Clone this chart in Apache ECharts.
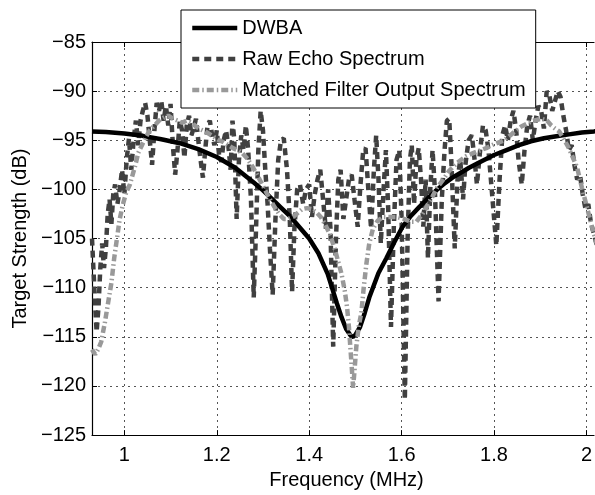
<!DOCTYPE html>
<html>
<head>
<meta charset="utf-8">
<script src="https://cdn.jsdelivr.net/npm/echarts@6/dist/echarts.min.js"></script>
<style>html,body{margin:0;padding:0;background:#fff}#c{width:595px;height:495px}</style>
</head>
<body>
<div id="c"></div>
<script>
const xTicks = [1, 1.2, 1.4, 1.6, 1.8, 2];
const yTicks = [-125, -120, -115, -110, -105, -100, -95, -90, -85];
const seriesNames = ['DWBA', 'Raw Echo Spectrum', 'Matched Filter Output Spectrum'];

const dwbaX = [0.93,0.96,1.00,1.04,1.08,1.12,1.16,1.20,1.24,1.28,1.30,1.32,1.34,1.36,1.38,1.40,1.42,1.44,1.46,1.47,1.48,1.49,1.495,1.50,1.51,1.52,1.53,1.55,1.567,1.585,1.602,1.62,1.638,1.657,1.675,1.69,1.71,1.728,1.746,1.77,1.80,1.827,1.854,1.88,1.908,1.935,1.962,1.99,2.016,2.04];
const dwbaY = [-94.1,-94.15,-94.3,-94.55,-94.9,-95.3,-95.9,-96.7,-97.8,-99.3,-100.1,-101.0,-101.9,-102.8,-103.9,-105.0,-106.5,-108.6,-111.6,-113.0,-114.2,-114.9,-115.0,-114.8,-114.0,-112.6,-111.0,-108.5,-107.0,-105.3,-103.8,-102.7,-101.8,-100.9,-100.1,-99.5,-98.8,-98.3,-97.8,-97.2,-96.5,-96.0,-95.5,-95.1,-94.8,-94.6,-94.4,-94.2,-94.1,-94.0];

const rawX = [0.930,0.933,0.937,0.940,0.944,0.948,0.952,0.956,0.960,0.964,0.968,0.972,0.976,0.980,0.985,0.990,0.995,1.000,1.005,1.010,1.015,1.020,1.025,1.030,1.035,1.040,1.045,1.050,1.055,1.060,1.065,1.070,1.075,1.080,1.085,1.090,1.095,1.100,1.105,1.110,1.115,1.120,1.125,1.130,1.135,1.140,1.145,1.150,1.155,1.160,1.165,1.170,1.175,1.180,1.185,1.190,1.195,1.200,1.205,1.210,1.215,1.220,1.225,1.230,1.234,1.238,1.243,1.248,1.253,1.258,1.263,1.268,1.274,1.280,1.285,1.290,1.295,1.300,1.305,1.310,1.315,1.321,1.327,1.333,1.339,1.345,1.352,1.358,1.363,1.368,1.374,1.380,1.387,1.393,1.400,1.406,1.412,1.418,1.424,1.430,1.436,1.441,1.446,1.452,1.458,1.463,1.468,1.474,1.480,1.486,1.492,1.498,1.505,1.511,1.517,1.522,1.528,1.534,1.540,1.545,1.550,1.555,1.561,1.566,1.571,1.577,1.583,1.589,1.595,1.600,1.607,1.613,1.618,1.622,1.627,1.632,1.637,1.642,1.647,1.652,1.657,1.662,1.667,1.672,1.680,1.687,1.693,1.698,1.703,1.708,1.715,1.721,1.727,1.733,1.738,1.745,1.752,1.758,1.763,1.770,1.776,1.782,1.788,1.795,1.805,1.812,1.818,1.824,1.830,1.836,1.842,1.848,1.853,1.860,1.866,1.872,1.878,1.884,1.890,1.896,1.902,1.908,1.914,1.920,1.926,1.932,1.938,1.944,1.950,1.956,1.962,1.968,1.974,1.980,1.986,1.992,1.998,2.004,2.010,2.016,2.024,2.034];
const rawY = [-105,-108,-112,-114.5,-112,-108,-105.5,-108,-106,-102.5,-101,-103.5,-100.5,-99.5,-101.5,-100,-98,-100.5,-97,-94.8,-98,-95,-93,-95.5,-93,-92,-91.2,-92.5,-95,-97.5,-94,-91.2,-92,-91,-93,-91.5,-93.5,-91.3,-95.5,-98.5,-96,-93,-94,-96.8,-93.5,-92.5,-94.5,-93.8,-92.8,-95,-97,-98.8,-96,-93.5,-93,-94.5,-95.5,-94,-96.5,-97.2,-95,-94,-95.5,-98,-93,-95,-103,-97,-94.5,-96,-93.5,-96,-101,-111,-104,-96,-92,-94,-98,-101.5,-106,-110.7,-103,-97,-95,-94.8,-98,-103,-110.4,-104,-100,-99.5,-101.5,-100,-99.5,-102.8,-100.5,-99,-98,-101,-104,-100,-104,-116,-105,-99,-98,-103,-101,-99,-98.5,-101,-103.8,-99.5,-96,-95.8,-100,-104,-98,-94.5,-99,-105.5,-100,-96,-102,-114,-104,-97,-96,-103,-121.4,-105,-97,-95.5,-101.5,-97,-95.8,-99,-103.8,-99,-107,-100,-96,-100,-111.4,-101,-96,-93,-92.8,-97.5,-106,-99,-97,-101,-97.5,-95,-94.5,-97,-99.5,-96,-93.5,-94,-96,-100,-105.7,-99,-94.5,-93.5,-95,-93,-92,-94,-97,-99.5,-96,-93.5,-92.5,-95,-93,-91.5,-92,-93.8,-90,-90.5,-92,-91,-90,-90.6,-92.5,-94,-96,-95.5,-97.5,-99,-98.5,-100.5,-102,-101.5,-103.5,-104.5,-106,-108];

const mfX = [0.930,0.937,0.944,0.950,0.958,0.965,0.972,0.978,0.984,0.990,0.997,1.004,1.012,1.018,1.024,1.030,1.038,1.046,1.055,1.065,1.075,1.085,1.095,1.105,1.115,1.125,1.135,1.145,1.155,1.165,1.175,1.185,1.195,1.205,1.215,1.225,1.235,1.245,1.255,1.265,1.275,1.285,1.295,1.305,1.315,1.325,1.335,1.345,1.355,1.365,1.375,1.385,1.395,1.405,1.415,1.425,1.435,1.445,1.455,1.462,1.470,1.477,1.482,1.486,1.489,1.492,1.495,1.498,1.502,1.507,1.513,1.518,1.524,1.530,1.538,1.548,1.560,1.575,1.590,1.605,1.620,1.632,1.645,1.656,1.667,1.677,1.690,1.703,1.720,1.740,1.760,1.783,1.800,1.822,1.840,1.859,1.880,1.902,1.915,1.924,1.932,1.941,1.950,1.962,1.971,1.980,1.990,2.001,2.012,2.022,2.034];
const mfY = [-116.3,-116.8,-116.2,-115.5,-113.5,-111.5,-109.5,-107,-105,-103,-101.5,-100.3,-99.5,-98.5,-97.5,-96.3,-95.5,-94.7,-94,-93.5,-93,-92.7,-92.5,-92.8,-93,-93.2,-93,-93.2,-93.6,-93.9,-94.1,-94.4,-94.7,-95,-95.2,-95.5,-95.8,-96,-96.3,-96.8,-97.5,-98.3,-99.2,-100.1,-101,-101.8,-102.5,-103,-103,-102.8,-102.4,-102,-101.9,-102,-102.3,-102.8,-103.6,-104.6,-106,-107.2,-108.6,-110.3,-112,-114,-116,-118,-120.2,-118.5,-116,-114,-112.5,-110,-107.5,-105.5,-104,-103.2,-102.8,-102.8,-102.8,-103,-103.3,-103.3,-102.5,-101.6,-100.7,-99.8,-99,-98.1,-97.3,-96.6,-96.2,-95.8,-95.4,-95,-94.3,-93.6,-93.1,-92.8,-93,-93.5,-93.8,-94.1,-94.8,-95.8,-96.8,-97.8,-99.8,-101.8,-103.8,-105.5,-107.5];

const zip = (a, b) => a.map((v, i) => [v, b[i]]);
const FONT = '"Liberation Sans", Arial, Helvetica, sans-serif';
const XMIN = 0.93, XMAX = 2.0164;
const minus = v => String(v).replace('-', '\u2212');

const chart = echarts.init(document.getElementById('c'), null, {renderer: 'canvas'});
chart.setOption({
  animation: false,
  backgroundColor: '#fff',
  textStyle: {fontFamily: FONT},
  grid: {left: 92, top: 42, right: 0, bottom: 52, show: false},
  legend: {
    data: seriesNames,
    left: 181, top: 10,
    orient: 'vertical',
    backgroundColor: '#fff',
    borderColor: '#000', borderWidth: 1, borderRadius: 0,
    padding: [8, 10, 8, 9],
    itemWidth: 45, itemHeight: 20, itemGap: 11,
    itemStyle: {opacity: 0},
    lineStyle: {width: 4.5},
    textStyle: {fontSize: 20, color: '#000', fontFamily: FONT},
    selectedMode: false
  },
  xAxis: [{
    type: 'value', min: XMIN, max: XMAX,
    name: 'Frequency (MHz)', nameLocation: 'middle', nameGap: 30,
    nameTextStyle: {fontSize: 20, color: '#000', fontFamily: FONT, padding: [0, 0, 0, 7]},
    axisLine: {lineStyle: {color: '#000', width: 1.2}},
    axisTick: {inside: true, length: 5, customValues: xTicks, lineStyle: {color: '#000'}},
    axisLabel: {customValues: xTicks, fontSize: 20, color: '#000', margin: 10, fontFamily: FONT, formatter: v => String(v)},
    splitLine: {show: true, lineStyle: {color: '#555', width: 1, type: [2, 4]}}
  }, {
    type: 'value', min: XMIN, max: XMAX, position: 'top',
    axisLine: {show: true, lineStyle: {color: '#000', width: 1.2}},
    axisTick: {inside: true, length: 5, customValues: xTicks, lineStyle: {color: '#000'}},
    axisLabel: {show: false}, splitLine: {show: false}
  }],
  yAxis: {
    type: 'value', min: -125, max: -85, interval: 5,
    name: 'Target Strength (dB)', nameLocation: 'middle', nameGap: 48,
    nameTextStyle: {fontSize: 20, color: '#000', fontFamily: FONT},
    axisLine: {show: true, lineStyle: {color: '#000', width: 1.2}},
    axisTick: {show: true, inside: true, length: 5, lineStyle: {color: '#000'}},
    axisLabel: {fontSize: 20, color: '#000', margin: 6, fontFamily: FONT, formatter: v => minus(v)},
    splitLine: {show: true, lineStyle: {color: '#555', width: 1, type: [2, 4]}}
  },
  series: [{
    name: seriesNames[1], type: 'line', data: zip(rawX, rawY), symbol: 'none', z: 2,
    lineStyle: {color: '#404040', width: 4.5, type: [7, 5], cap: 'butt'}, itemStyle: {color: '#404040'}
  }, {
    name: seriesNames[0], type: 'line', data: zip(dwbaX, dwbaY), symbol: 'none', z: 3,
    lineStyle: {color: '#000', width: 4.5}, itemStyle: {color: '#000'}
  }, {
    name: seriesNames[2], type: 'line', data: zip(mfX, mfY), symbol: 'none', z: 4,
    lineStyle: {color: '#999', width: 4.5, type: [7, 3, 1.5, 3], cap: 'butt'}, itemStyle: {color: '#999'}
  }]
});
</script>
</body>
</html>
